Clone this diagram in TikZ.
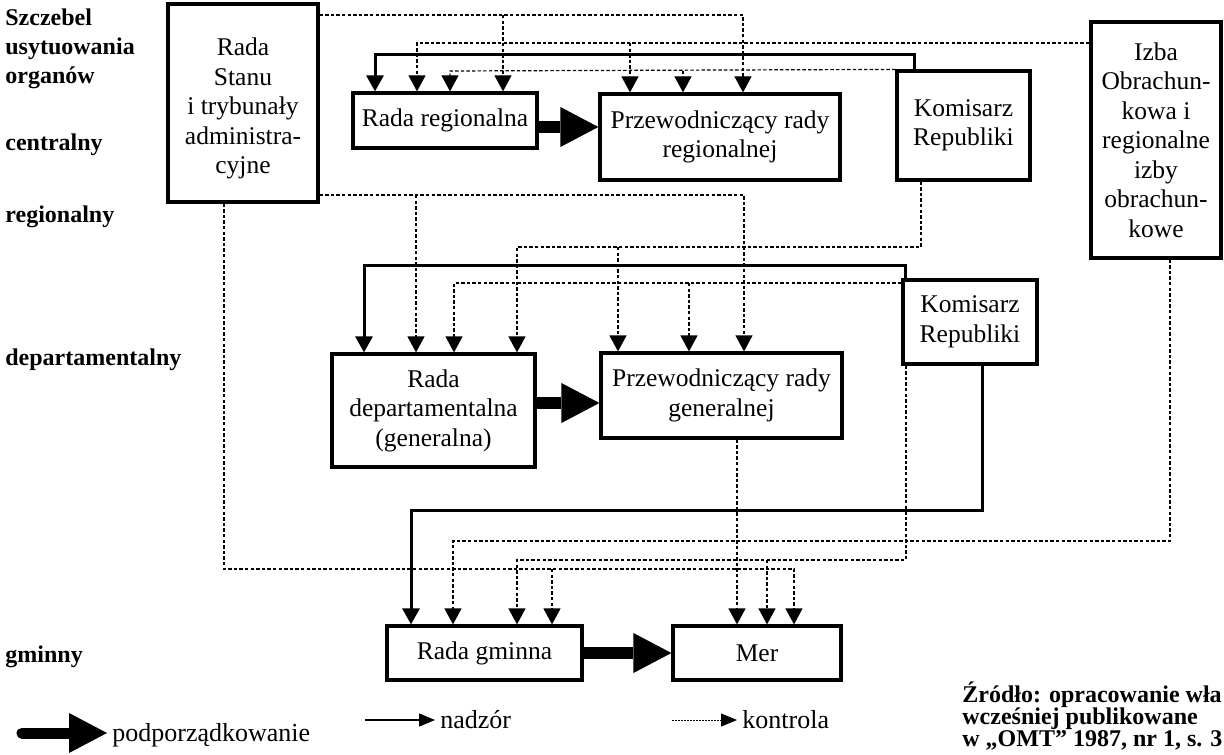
\documentclass[tikz,border=0pt]{standalone}
\usepackage{fontspec}
\setmainfont{Liberation Serif}
\usetikzlibrary{arrows.meta}
\begin{document}
\begin{tikzpicture}[x=0.5pt,y=-0.5pt,
  box/.style={draw, line width=1.6pt, align=center, inner sep=0pt, font=\fontsize{12.75}{14.75}\selectfont},
  lvl/.style={anchor=base west, inner sep=0pt, font=\bfseries\fontsize{12}{14}\selectfont},
  leg/.style={anchor=west, inner xsep=2.5pt, inner ysep=0pt, font=\fontsize{13}{15}\selectfont},
  src/.style={anchor=base west, inner sep=0pt, font=\bfseries\fontsize{12}{13}\selectfont},
  nadz/.style={line width=1.5pt, -{Triangle[length=8pt,width=8.5pt]}},
  ctl/.style={line width=0.6pt, dash pattern=on 1.7pt off 1.1pt, -{Triangle[length=8pt,width=8.5pt]}},
  pod/.style={line width=5.8pt, -{Triangle[length=19pt,width=20pt,line width=0pt]}}
]
\useasboundingbox (0,0) rectangle (1224,754);

% level labels
\node[lvl] (l1) at (5,26) {Szczebel};
\node[lvl] (l2) at (5,55) {usytuowania};
\node[lvl] (l3) at (5,84) {organów};
\node[lvl] (l4) at (5,151) {centralny};
\node[lvl] (l5) at (5,222) {regionalny};
\node[lvl] (l6) at (5,365) {departamentalny};
\node[lvl] (l7) at (5,662) {gminny};

% boxes
\node[box, minimum width=75pt, minimum height=99pt] (rs) at (243,103)
  {\raisebox{-3pt}[\height][\depth]{\begin{tabular}{@{}c@{}}Rada\\Stanu\\i trybunały\\administra-\\cyjne\end{tabular}}};
\node[box, minimum width=92pt, minimum height=27.5pt] (rr) at (445,120.5) {Rada regionalna};
\node[box, minimum width=120pt, minimum height=43pt] (pr) at (720,137) {Przewodniczący rady\\regionalnej};
\node[box, minimum width=66.5pt, minimum height=54.5pt] (kr) at (963.5,125.5) {Komisarz\\Republiki};
\node[box, minimum width=65pt, minimum height=118pt] (iz) at (1156,140) {Izba\\Obrachun-\\kowa i\\regionalne\\izby\\obrachun-\\kowe};
\node[box, minimum width=101.5pt, minimum height=56.5pt] (rd) at (433.5,410.5) {Rada\\departamentalna\\(generalna)};
\node[box, minimum width=120.5pt, minimum height=42.5pt] (pg) at (721.5,395.5) {Przewodniczący rady\\generalnej};
\node[box, minimum width=67pt, minimum height=42pt] (kd) at (970,322) {Komisarz\\Republiki};
\node[box, minimum width=97.5pt, minimum height=27pt] (rg) at (484.5,653) {Rada gminna};
\node[box, minimum width=84pt, minimum height=27pt] (mer) at (757,653) {Mer};

% podporzadkowanie
\draw[pod] (rr.east |- 0,127) -- (pr.west |- 0,127);
\draw[pod] (rd.east |- 0,403) -- (pg.west |- 0,403);
\draw[pod] (rg.east |- 0,653) -- (mer.west |- 0,653);

% nadzor
\draw[nadz] (914,0 |- kr.north) -- (914,55) -- (375,55) -- (375,0 |- rr.north);
\draw[nadz] (905,0 |- kd.north) -- (905,265) -- (364,265) -- (364,0 |- rd.north);
\draw[nadz] (982,0 |- kd.south) -- (982,510) -- (411,510) -- (411,0 |- rg.north);

% kontrola - regional level
\draw[ctl] (rs.east |- 0,15) -- (743,15) -- (743,0 |- pr.north);
\draw[ctl] (503,15) -- (503,0 |- rr.north);
\draw[ctl] (iz.west |- 0,43) -- (417,43) -- (417,0 |- rr.north);
\draw[ctl] (630,43) -- (630,0 |- pr.north);
\draw[ctl] (kr.north west) -- (450,71) -- (450,0 |- rr.north);
\draw[ctl] (683,71) -- (683,0 |- pr.north);
% departmental level
\draw[ctl] (rs.east |- 0,195) -- (744,195) -- (744,0 |- pg.north);
\draw[ctl] (416,195) -- (416,0 |- rd.north);
\draw[ctl] (921,0 |- kr.south) -- (921,247) -- (517,247) -- (517,0 |- rd.north);
\draw[ctl] (618,247) -- (618,0 |- pg.north);
\draw[ctl] (kd.west |- 0,283) -- (454,283) -- (454,0 |- rd.north);
\draw[ctl] (689,283) -- (689,0 |- pg.north);
% communal level
\draw[ctl] (224,0 |- rs.south) -- (224,569) -- (794,569) -- (794,0 |- mer.north);
\draw[ctl] (552,569) -- (552,0 |- rg.north);
\draw[ctl] (1170,0 |- iz.south) -- (1170,541) -- (453,541) -- (453,0 |- rg.north);
\draw[ctl] (906,0 |- kd.south) -- (906,560) -- (517,560) -- (517,0 |- rg.north);
\draw[ctl] (767,560) -- (767,0 |- mer.north);
\draw[ctl] (737,0 |- pg.south) -- (737,0 |- mer.north);

% legend
\coordinate (p0) at (22,733);
\node[leg] (lp) at (107,735) {podporządkowanie};
\draw[pod, line width=5.5pt, line cap=round] (p0) -- (lp.west |- p0);
\coordinate (n0) at (365,720);
\node[leg] (ln) at (435,720) {nadzór};
\draw[line width=0.8pt, -{Triangle[length=8pt,width=6.5pt]}] (n0) -- (ln.west);
\coordinate (k0) at (672,720);
\node[leg] (lk) at (737,720) {kontrola};
\draw[line width=0.5pt, dash pattern=on 0.8pt off 0.7pt, -{Triangle[length=8pt,width=6.5pt]}] (k0) -- (lk.west);

% source
\node[src] (s1) at (962,702) {Źródło: opracowanie wła};
\node[src] (s2) at (962,724) {wcześniej publikowane};
\node[src] (s3) at (962,746) {w „OMT” 1987, nr 1, s. 3};
\end{tikzpicture}
\end{document}
